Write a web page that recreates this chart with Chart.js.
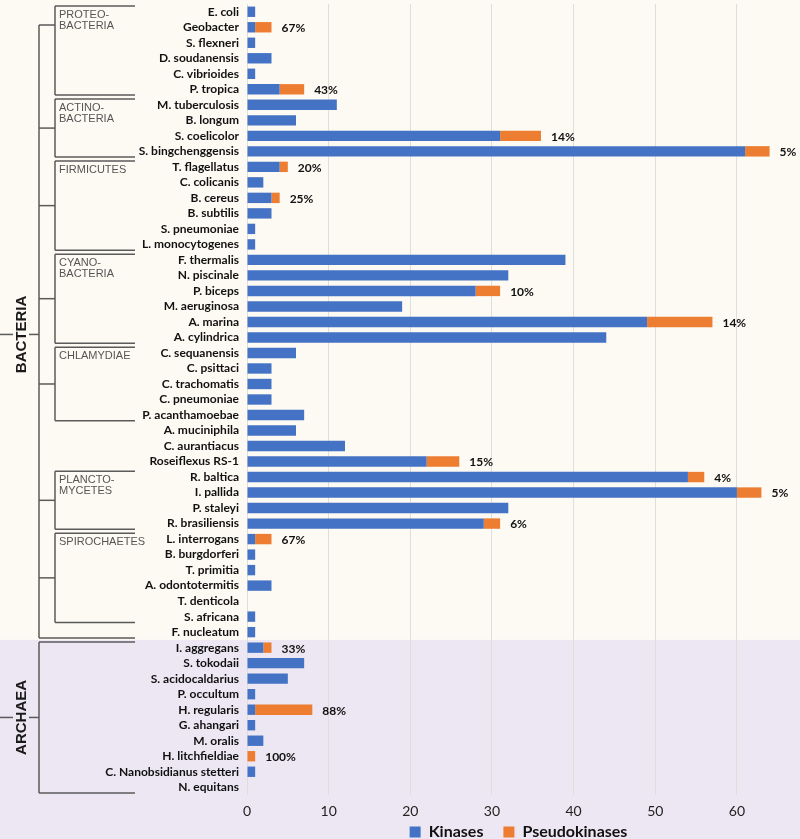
<!DOCTYPE html>
<html>
<head>
<meta charset="utf-8">
<script src="https://cdn.jsdelivr.net/npm/chart.js@4.4.1/dist/chart.umd.min.js"></script>
<style>
  html, body { margin: 0; padding: 0; overflow: hidden; background: #fdfaf3; }
  #wrap { position: relative; width: 800px; height: 839px; }
</style>
</head>
<body>
<div id="wrap"><canvas id="c" width="800" height="839"></canvas></div>
<script>
const categories = [
  "E. coli","Geobacter","S. flexneri","D. soudanensis","C. vibrioides","P. tropica",
  "M. tuberculosis","B. longum","S. coelicolor","S. bingchenggensis",
  "T. flagellatus","C. colicanis","B. cereus","B. subtilis","S. pneumoniae","L. monocytogenes",
  "F. thermalis","N. piscinale","P. biceps","M. aeruginosa","A. marina","A. cylindrica",
  "C. sequanensis","C. psittaci","C. trachomatis","C. pneumoniae","P. acanthamoebae",
  "A. muciniphila","C. aurantiacus","Roseiflexus RS-1",
  "R. baltica","I. pallida","P. staleyi","R. brasiliensis",
  "L. interrogans","B. burgdorferi","T. primitia","A. odontotermitis","T. denticola","S. africana",
  "F. nucleatum",
  "I. aggregans","S. tokodaii","S. acidocaldarius","P. occultum","H. regularis","G. ahangari",
  "M. oralis","H. litchfieldiae","C. Nanobsidianus stetteri","N. equitans"
];
const kinases = [
  1,1,1,3,1,4,
  11,6,31,61,
  4,2,3,3,1,1,
  39,32,28,19,49,44,
  6,3,3,3,7,
  6,12,22,
  54,60,32,29,
  1,1,1,3,0,1,
  1,
  2,7,5,1,1,1,
  2,0,1,0
];
const pseudokinases = [
  0,2,0,0,0,3,
  0,0,5,3,
  1,0,1,0,0,0,
  0,0,3,0,8,0,
  0,0,0,0,0,
  0,0,4,
  2,3,0,2,
  2,0,0,0,0,0,
  0,
  1,0,0,0,7,0,
  0,1,0,0
];
const seriesNames = ["Kinases", "Pseudokinases"];
const xTicks = [0, 10, 20, 30, 40, 50, 60];

// phylogeny (tree structure by category name)
const cladeLabels = [["PROTEO-","BACTERIA"],["ACTINO-","BACTERIA"],["FIRMICUTES"],["CYANO-","BACTERIA"],["CHLAMYDIAE"],["PLANCTO-","MYCETES"],["SPIROCHAETES"]];
const cladeFirst = ["E. coli","M. tuberculosis","T. flagellatus","F. thermalis","C. sequanensis","R. baltica","L. interrogans"];
const cladeLast  = ["P. tropica","S. bingchenggensis","L. monocytogenes","A. cylindrica","P. acanthamoebae","R. brasiliensis","S. africana"];
const domainLabels = ["BACTERIA","ARCHAEA"];
const domainFirst = ["E. coli","I. aggregans"];
const domainLast = ["F. nucleatum","N. equitans"];

const COLORS = { blue: "#4472c4", orange: "#ed7d31", cream: "#fdfaf3", lavender: "#ece7f2", line: "#5a5a5a" };

const bgPlugin = {
  id: "bg",
  beforeDraw(chart) {
    const { ctx, width, height } = chart;
    const y = chart.scales.y;
    const i = categories.indexOf(domainFirst[1]);
    const boundary = (y.getPixelForValue(i - 1) + y.getPixelForValue(i)) / 2;
    ctx.save();
    ctx.fillStyle = COLORS.cream;
    ctx.fillRect(0, 0, width, height);
    ctx.fillStyle = COLORS.lavender;
    ctx.fillRect(0, boundary, width, height - boundary);
    ctx.restore();
  }
};

const treePlugin = {
  id: "tree",
  afterDraw(chart) {
    const { ctx } = chart;
    const y = chart.scales.y;
    const half = (y.getPixelForValue(1) - y.getPixelForValue(0)) / 2;
    const topOf = n => y.getPixelForValue(categories.indexOf(n)) - half + 2;
    const botOf = n => y.getPixelForValue(categories.indexOf(n)) + half - 2;
    const xRoot = 0, xDom = 39, xClade = 55, xEnd = 135;
    ctx.save();
    ctx.strokeStyle = COLORS.line;
    ctx.lineWidth = 1.5;
    const line = (x1, y1, x2, y2) => { ctx.beginPath(); ctx.moveTo(x1, y1); ctx.lineTo(x2, y2); ctx.stroke(); };

    let firstBranch = null;
    cladeLabels.forEach((lab, k) => {
      const t = topOf(cladeFirst[k]), b = botOf(cladeLast[k]);
      line(xEnd, t, xClade, t);
      line(xClade, t, xClade, b);
      line(xClade, b, xEnd, b);
      const by = k === 0 ? t + 19 : (t + b) / 2;
      if (k === 0) firstBranch = by;
      line(xDom, by, xClade, by);
      ctx.fillStyle = "#555";
      ctx.font = "11px 'Liberation Sans', Arial, sans-serif";
      ctx.textAlign = "left";
      ctx.textBaseline = "alphabetic";
      lab.forEach((s, j) => ctx.fillText(s, xClade + 4, t + 12 + j * 11));
    });

    // Bacteria trunk
    const bBot = botOf(domainLast[0]);
    line(xDom, firstBranch, xDom, bBot);
    line(xDom, bBot, xEnd, bBot);
    // Archaea bracket
    const aTop = topOf(domainFirst[1]), aBot = botOf(domainLast[1]);
    line(xEnd, aTop, xDom, aTop);
    line(xDom, aTop, xDom, aBot);
    line(xDom, aBot, xEnd, aBot);

    const mids = [(firstBranch + bBot) / 2 + 3, (aTop + aBot) / 2];
    mids.forEach((m, k) => {
      line(xRoot, m, 13, m);
      line(29, m, xDom, m);
      ctx.save();
      ctx.translate(21, m);
      ctx.rotate(-Math.PI / 2);
      ctx.fillStyle = "#1a1a1a";
      ctx.font = "bold 15px 'Liberation Sans', Arial, sans-serif";
      ctx.textAlign = "center";
      ctx.textBaseline = "middle";
      ctx.fillText(domainLabels[k], 0, 1);
      ctx.restore();
    });
    ctx.restore();
  }
};

const pctPlugin = {
  id: "pct",
  afterDatasetsDraw(chart) {
    const { ctx } = chart;
    const x = chart.scales.x, y = chart.scales.y;
    ctx.save();
    ctx.fillStyle = "#111";
    ctx.font = "bold 12px Lato, sans-serif";
    ctx.textAlign = "left";
    ctx.textBaseline = "middle";
    categories.forEach((c, i) => {
      const p = pseudokinases[i];
      if (!p) return;
      const tot = kinases[i] + p;
      const pct = Math.round(p / tot * 100) + "%";
      ctx.fillText(pct, x.getPixelForValue(tot) + 10, y.getPixelForValue(i) + 1);
    });
    ctx.restore();
  }
};

const LEGEND_PAD = 20, LEGEND_FONT = 16, LEGEND_CENTER_FROM_BOTTOM = 7;
const layoutPlugin = {
  id: "layoutFix",
  beforeLayout(chart) {
    const lg = chart.legend;
    if (lg && !lg._patched) {
      const fit = lg.fit;
      // legend reserves only 19px; it is repositioned in afterLayout
      lg.fit = function () { fit.call(this); this.height = 19; };
      lg._patched = true;
    }
  },
  afterLayout(chart) {
    const lg = chart.legend;
    if (lg) {
      const full = LEGEND_FONT + LEGEND_PAD + 10;
      const center = chart.height - LEGEND_CENTER_FROM_BOTTOM;
      lg.left = chart.chartArea.left;
      lg.right = chart.chartArea.right;
      lg.width = lg.right - lg.left;
      lg.top = center - LEGEND_PAD - LEGEND_FONT / 2;
      lg.bottom = lg.top + full;
      lg.height = full;
    }
  }
};

new Chart(document.getElementById("c"), {
  type: "bar",
  data: {
    labels: categories,
    datasets: [
      { label: seriesNames[0], data: kinases, backgroundColor: COLORS.blue, borderWidth: 0, barPercentage: 0.67, categoryPercentage: 1 },
      { label: seriesNames[1], data: pseudokinases, backgroundColor: COLORS.orange, borderWidth: 0, barPercentage: 0.67, categoryPercentage: 1 }
    ]
  },
  options: {
    indexAxis: "y",
    responsive: false,
    animation: false,
    devicePixelRatio: 1,
    layout: { padding: { top: 4, right: 10, bottom: 0, left: 0 } },
    scales: {
      x: {
        stacked: true,
        min: 0,
        max: 66.5,
        afterBuildTicks(scale) { scale.ticks = xTicks.map(v => ({ value: v })); },
        afterFit(scale) { scale.height = 25; },
        grid: { color: "#dedede", lineWidth: 1, drawTicks: false },
        border: { display: false },
        ticks: { padding: 8, color: "#222", font: { family: "Lato, sans-serif", size: 14 } }
      },
      y: {
        stacked: true,
        afterFit(scale) { scale.width = 247; scale.paddingTop = 0; scale.paddingBottom = 0; },
        grid: { display: false, drawTicks: false },
        border: { display: false },
        ticks: { autoSkip: false, padding: 8, color: "#111", font: { family: "Lato, sans-serif", size: 12, weight: "bold" } }
      }
    },
    plugins: {
      legend: {
        position: "bottom",
        labels: { boxWidth: 11, boxHeight: 11, padding: LEGEND_PAD, color: "#111", font: { family: "Lato, sans-serif", size: LEGEND_FONT, weight: "bold" } }
      },
      tooltip: { enabled: false }
    }
  },
  plugins: [bgPlugin, treePlugin, pctPlugin, layoutPlugin]
});
</script>
</body>
</html>
